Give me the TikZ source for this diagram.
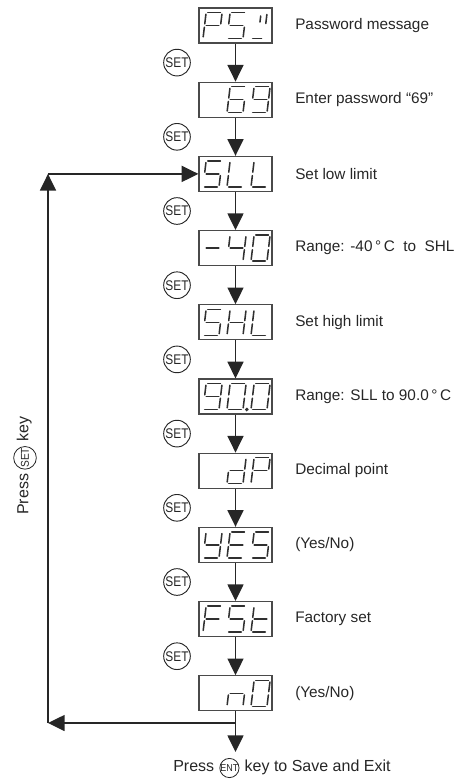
\documentclass[tikz,border=0pt]{standalone}
\usepackage{fontspec}
\setmainfont{Liberation Sans}
\usepackage{graphicx}
\usetikzlibrary{arrows.meta,calc}

\definecolor{ink}{HTML}{262626}
\definecolor{boxline}{HTML}{4A4A4A}
\definecolor{segc}{HTML}{303030}

% seven-segment pieces (local units = px, origin at bottom-left, y down)
\def\sga{(1.7,-26) -- (14.3,-26)}
\def\sgb{(16,-24.3) -- (16,-14.7)}
\def\sgc{(16,-11.3) -- (16,-1.7)}
\def\sgd{(1.7,0) -- (14.3,0)}
\def\sge{(0,-1.7) -- (0,-11.3)}
\def\sgf{(0,-14.7) -- (0,-24.3)}
\def\sgg{(1.7,-13) -- (14.3,-13)}
\def\sgp{(19.8,0) circle (0.9)}
\def\sgq{(7,-22.5) -- (7,-16.5)}
\def\sgr{(13,-24) -- (13,-15)}
\def\sgs{(1.7,0) -- (10.5,0)}

\newcommand\sevdig[3]{%
  \pgfmathsetmacro\dgx{203+24*(#1-1)}%
  \pgfmathsetmacro\dgy{38.5+74.2*(#2-1)}%
  \begin{scope}[shift={(\dgx,\dgy)}, xslant=0.12]
    \foreach \s in {#3}{\draw[segment] \csname sg\s\endcsname;}
  \end{scope}}

\begin{document}
\begin{tikzpicture}[x=0.75pt,y=-0.75pt,
  dispbox/.style={draw=boxline, line width=0.9pt, fill=white,
    minimum width=54.75pt, minimum height=26.25pt, inner sep=0pt},
  segment/.style={draw=segc, line width=1.15pt, line cap=round},
  flow/.style={draw=ink, line width=1.1pt, -{Triangle[width=12pt,length=12.5pt]}},
  setkey/.style={circle, draw=ink, line width=0.7pt, minimum size=20pt,
    inner sep=0pt, text=ink, font=\fontsize{10.5}{11}\selectfont},
  minikey/.style={circle, draw=ink, line width=0.6pt, minimum size=14pt,
    inner sep=0pt, text=ink, font=\fontsize{7.5}{8}\selectfont},
  lab/.style={anchor=west, inner sep=0pt, text=ink, font=\fontsize{11.5}{13}\selectfont},
  txt/.style={inner sep=0pt, text=ink, font=\fontsize{12}{14}\selectfont,
    text height=0.72em, text depth=0.2em},
]
\useasboundingbox (0,0) rectangle (468,779);

% display boxes
\foreach \i in {1,...,10}{
  \pgfmathsetmacro\cy{25.5+74.2*(\i-1)}
  \node[dispbox] (b\i) at (235.5,\cy) {};
}

% SET keys between boxes
\foreach \i in {1,...,9}{
  \pgfmathsetmacro\ky{62.6+74.2*(\i-1)}
  \node[setkey] (k\i) at (177,\ky) {\scalebox{0.85}[1]{SET}};
}

% flow arrows
\foreach \i/\j in {1/2,2/3,3/4,4/5,5/6,6/7,7/8,8/9,9/10}{
  \draw[flow] (b\i.south) -- (b\j.north);
}

% displays content
\sevdig{1}{1}{a,b,e,f,g}\sevdig{2}{1}{a,c,d,f,g}\sevdig{3}{1}{q,r,s}
\sevdig{2}{2}{a,c,d,e,f,g}\sevdig{3}{2}{a,b,c,d,f,g}
\sevdig{1}{3}{a,c,d,f,g}\sevdig{2}{3}{d,e,f}\sevdig{3}{3}{d,e,f}
\sevdig{1}{4}{g}\sevdig{2}{4}{b,c,f,g}\sevdig{3}{4}{a,b,c,d,e,f}
\sevdig{1}{5}{a,c,d,f,g}\sevdig{2}{5}{b,c,e,f,g}\sevdig{3}{5}{d,e,f}
\sevdig{1}{6}{a,b,c,d,f,g}\sevdig{2}{6}{a,b,c,d,e,f,p}\sevdig{3}{6}{a,b,c,d,e,f}
\sevdig{2}{7}{b,c,d,e,g}\sevdig{3}{7}{a,b,e,f,g}
\sevdig{1}{8}{b,c,d,f,g}\sevdig{2}{8}{a,d,e,f,g}\sevdig{3}{8}{a,c,d,f,g}
\sevdig{1}{9}{a,e,f,g}\sevdig{2}{9}{a,c,d,f,g}\sevdig{3}{9}{d,e,f,g}
\sevdig{2}{10}{c,e,g}\sevdig{3}{10}{a,b,c,d,e,f}

% labels
\node[lab] (l1) at (295,25.5) {Password message};
\node[lab] (l2) at (295,99.7) {Enter password “69”};
\node[lab] (l3) at (295,173.9) {Set low limit};
\node[lab] (l4) at (295,248.1) {Range: -40\,°\,C\ \ to\ \ SHL};
\node[lab] (l5) at (295,322.3) {Set high limit};
\node[lab] (l6) at (295,396.5) {Range: SLL to 90.0\,°\,C};
\node[lab] (l7) at (295,470.7) {Decimal point};
\node[lab] (l8) at (295,544.9) {(Yes/No)};
\node[lab] (l9) at (295,619.1) {Factory set};
\node[lab] (l10) at (295,693.3) {(Yes/No)};

% return loop
\coordinate (j) at (235.5,723);
\coordinate (bl) at (48,723);
\coordinate (tl) at (bl |- b3.west);
\draw[flow] (j) -- (bl);
\draw[flow] (bl) -- (tl);
\draw[flow] (tl) -- (b3.west);

% exit
\coordinate (ex) at (235.5,752);
\draw[flow] (b10.south) -- (ex);
\node[txt, anchor=west] (p1) at (173,768) {Press};
\node[minikey, anchor=west] (ek) at ($(p1.east)+(5,0)$) {\scalebox{0.9}[1]{ENT}};
\node[txt, anchor=west] (p2) at ($(ek.east)+(5,0)$) {key to Save and Exit};

% rotated side label
\node[txt, rotate=90, anchor=west] (r1) at (25,515) {Press};
\node[minikey, minimum size=17pt, font=\fontsize{8.5}{9}\selectfont, rotate=90, anchor=west] (rk) at ($(r1.east)+(0,-4)$) {\scalebox{0.9}[1]{SET}};
\node[txt, rotate=90, anchor=west] (r2) at ($(rk.east)+(0,-4)$) {key};
\end{tikzpicture}
\end{document}
